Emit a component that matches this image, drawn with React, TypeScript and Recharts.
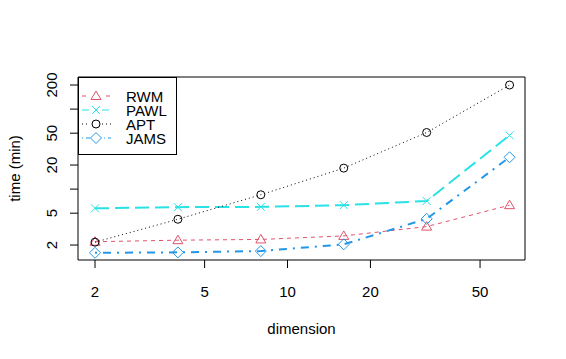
import React from 'react';
import { LineChart, Line, XAxis, YAxis, ReferenceArea, Label } from 'recharts';

// dimension (x) and run times in minutes for each sampler
const dims = [2, 4, 8, 16, 32, 64];
const rwm = [2.2, 2.3, 2.35, 2.6, 3.4, 6.3];
const pawl = [5.75, 5.95, 6.0, 6.3, 7.1, 47];
const apt = [2.17, 4.2, 8.5, 18.3, 51, 200];
const jams = [1.6, 1.62, 1.68, 2.04, 4.25, 25];

const xTicks = [2, 5, 10, 20, 50];
const yTicks = [2, 5, 10, 20, 50, 100, 200];
const yLabelled = [2, 5, 20, 50, 200];

const xDomain = [1.735, 72.8];
const yDomain = [1.3, 252];

const FONT = '"Liberation Sans", Arial, Helvetica, sans-serif';
const FS = 15;

const data = dims.map((d, i) => ({ dim: d, RWM: rwm[i], PAWL: pawl[i], APT: apt[i], JAMS: jams[i] }));

type Marker = 'triangle' | 'cross' | 'circle' | 'diamond';

const series: { key: string; color: string; dash: string; width: number; marker: Marker }[] = [
  { key: 'RWM', color: '#DF536B', dash: '4 4', width: 1, marker: 'triangle' },
  { key: 'PAWL', color: '#28E2E5', dash: '14 6', width: 2, marker: 'cross' },
  { key: 'APT', color: '#000000', dash: '1 3', width: 1, marker: 'circle' },
  { key: 'JAMS', color: '#2297E6', dash: '2 6 8 6', width: 2, marker: 'diamond' },
];

const drawMarker = (m: Marker, cx: number, cy: number, color: string, k?: string) => {
  const common = { stroke: color, strokeWidth: 1, fill: 'none', key: k };
  if (m === 'triangle') {
    return <polygon {...common} points={`${cx},${cy - 5} ${cx + 5},${cy + 3.5} ${cx - 5},${cy + 3.5}`} />;
  }
  if (m === 'cross') {
    return (
      <path {...common} d={`M${cx - 4},${cy - 4}L${cx + 4},${cy + 4}M${cx - 4},${cy + 4}L${cx + 4},${cy - 4}`} />
    );
  }
  if (m === 'circle') {
    return <circle {...common} cx={cx} cy={cy} r={4} />;
  }
  return <polygon {...common} points={`${cx},${cy - 5.5} ${cx + 5.5},${cy} ${cx},${cy + 5.5} ${cx - 5.5},${cy}`} />;
};

const YTick = (props: any) => {
  const { x, y, payload } = props;
  if (!yLabelled.includes(payload.value)) return null;
  const bx = x - 13;
  return (
    <text x={bx} y={y} transform={`rotate(-90 ${bx} ${y})`} textAnchor="middle" fill="#000" fontSize={FS} fontFamily={FONT}>
      {payload.value}
    </text>
  );
};

const LegendBox = () => (
  <svg width={100} height={80} style={{ position: 'absolute', left: 78, top: 77 }}>
    <rect x={0.5} y={0.5} width={98} height={77} fill="#fff" stroke="#000" />
    {series.map((s, i) => {
      const cy = 19 + i * 14;
      return (
        <g key={s.key}>
          <line x1={4} x2={33} y1={cy} y2={cy} stroke={s.color} strokeWidth={1} strokeDasharray={s.marker === 'circle' ? '1 3' : s.marker === 'diamond' ? '1 3 4 3' : s.marker === 'cross' ? '7 3' : '4 4'} />
          <rect x={12} y={cy - 6} width={12} height={12} fill="#fff" />
          {drawMarker(s.marker, 18, cy, s.color)}
          <text x={48} y={cy + 5.5} fontSize={FS} fontFamily={FONT} fill="#000">{s.key}</text>
        </g>
      );
    })}
  </svg>
);

export default function App() {
  return (
    <div style={{ position: 'absolute', left: 0, top: 0, width: 566, height: 359, background: '#fff' }}>
      <LineChart width={566} height={359} data={data} margin={{ top: 77, right: 41, left: 0, bottom: 0 }}>
        <XAxis
          dataKey="dim"
          type="number"
          scale="log"
          domain={xDomain}
          allowDataOverflow
          ticks={xTicks}
          interval={0}
          height={99}
          axisLine={false}
          tickLine={{ stroke: '#000' }}
          tickSize={8}
          tickMargin={18}
          tick={{ fill: '#000', fontSize: FS, fontFamily: FONT }}
        >
          <Label
            content={() => (
              <text x={301.5} y={334} textAnchor="middle" fontSize={FS} fontFamily={FONT} fill="#000">
                dimension
              </text>
            )}
          />
        </XAxis>
        <YAxis
          type="number"
          scale="log"
          domain={yDomain}
          allowDataOverflow
          ticks={yTicks}
          interval={0}
          width={78}
          axisLine={false}
          tickLine={{ stroke: '#000' }}
          tickSize={8}
          tickMargin={0}
          tick={<YTick />}
        >
          <Label
            content={() => (
              <text x={20} y={168.5} transform="rotate(-90 20 168.5)" textAnchor="middle" fontSize={FS} fontFamily={FONT} fill="#000">
                time (min)
              </text>
            )}
          />
        </YAxis>
        <ReferenceArea x1={xDomain[0]} x2={xDomain[1]} y1={yDomain[0]} y2={yDomain[1]} fill="none" stroke="#000" strokeWidth={1} />
        {series.map((s) => (
          <Line
            key={s.key}
            dataKey={s.key}
            stroke={s.color}
            strokeWidth={s.width}
            strokeDasharray={s.dash}
            isAnimationActive={false}
            dot={(p: any) => drawMarker(s.marker, p.cx, p.cy, s.color, `${s.key}-${p.index}`)}
            activeDot={false}
          />
        ))}
      </LineChart>
      <LegendBox />
    </div>
  );
}
